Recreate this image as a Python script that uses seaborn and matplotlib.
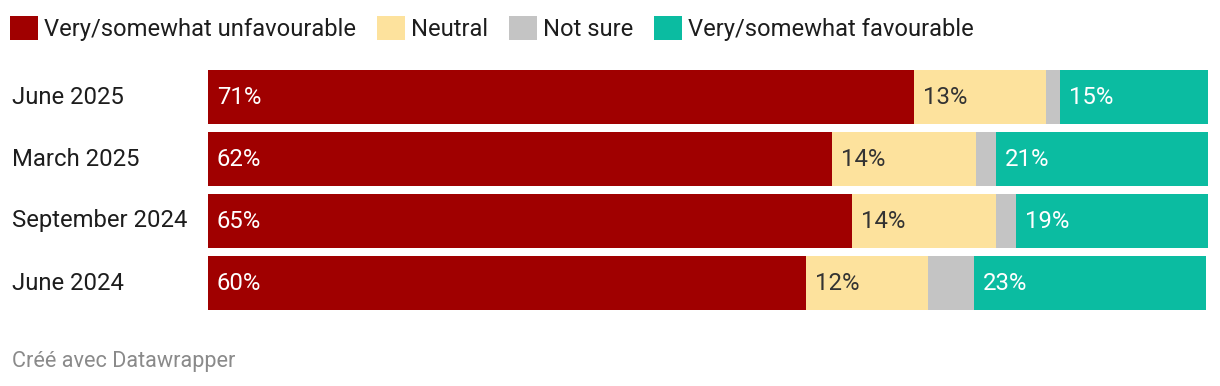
import matplotlib
matplotlib.use("Agg")
import matplotlib.pyplot as plt
import seaborn as sns
import pandas as pd
import numpy as np
from matplotlib.patches import Patch

periods = ["June 2025", "March 2025", "September 2024", "June 2024"]
series_names = ["Very/somewhat unfavourable", "Neutral", "Not sure", "Very/somewhat favourable"]
unfavourable = [70.6, 62.4, 64.4, 59.8]
neutral = [13.2, 14.4, 14.4, 12.2]
not_sure = [1.4, 2.0, 2.0, 4.6]
favourable = [14.8, 21.2, 19.2, 23.2]
label_unfav = ["71%", "62%", "65%", "60%"]
label_neutral = ["13%", "14%", "14%", "12%"]
label_fav = ["15%", "21%", "19%", "23%"]

colors = ["#a00000", "#fde29d", "#c4c4c4", "#0bbca1"]
text_colors = ["white", "#333333", None, "white"]

sns.set_theme(style="white")
plt.rcParams["font.family"] = ["Roboto", "DejaVu Sans"]

FS = 17.2
LFS = 17.1

series = [unfavourable, neutral, not_sure, favourable]
labels = [label_unfav, label_neutral, None, label_fav]
df = pd.DataFrame({"period": periods})
for name, vals in zip(series_names, series):
    df[name] = vals
cum = df[series_names].cumsum(axis=1)

W, H = 1220, 386
fig = plt.figure(figsize=(W / 100, H / 100), dpi=100)
ax = fig.add_axes([208 / W, (H - 314) / H, 1000 / W, 248 / H])

# draw from the full stack down so each segment shows
for i in reversed(range(len(series_names))):
    d = pd.DataFrame({"period": periods, "end": cum[series_names[i]].values})
    sns.barplot(data=d, x="end", y="period", order=periods, color=colors[i],
                orient="h", width=54 / 62, saturation=1, ax=ax, linewidth=0)

starts = cum.values - df[series_names].values
for i in range(len(series_names)):
    if labels[i] is None:
        continue
    for j in range(len(periods)):
        ax.annotate(labels[i][j], xy=(starts[j, i], j), xytext=(9, -1),
                    textcoords="offset pixels", va="center", ha="left",
                    fontsize=FS, color=text_colors[i])

ax.set_xlim(0, 100)
ax.set_ylim(3.5, -0.5)
ax.set_xlabel("")
ax.set_ylabel("")
ax.set_xticks([])
ax.tick_params(axis="y", length=0, pad=196 * 0.72, labelsize=FS, labelcolor="#1d1d1d")
for t in ax.get_yticklabels():
    t.set_horizontalalignment("left")
    t.set_verticalalignment("center")
sns.despine(ax=ax, left=True, bottom=True)

handles = [Patch(facecolor=c, edgecolor="none") for c in colors]
fig.legend(handles, series_names, loc="upper left", bbox_to_anchor=(3 / W, 1 - 9 / H),
           ncol=4, frameon=False, fontsize=LFS, handlelength=1.17, handleheight=1.17,
           handletextpad=0.25, columnspacing=0.89, borderaxespad=0, borderpad=0.3,
           labelcolor="#1d1d1d")

fig.text(12 / W, 1 - 362 / H, "Créé avec Datawrapper", fontsize=15.6, color="#8a8a8a",
         ha="left", va="center")

fig.savefig("out.png", dpi=100)
